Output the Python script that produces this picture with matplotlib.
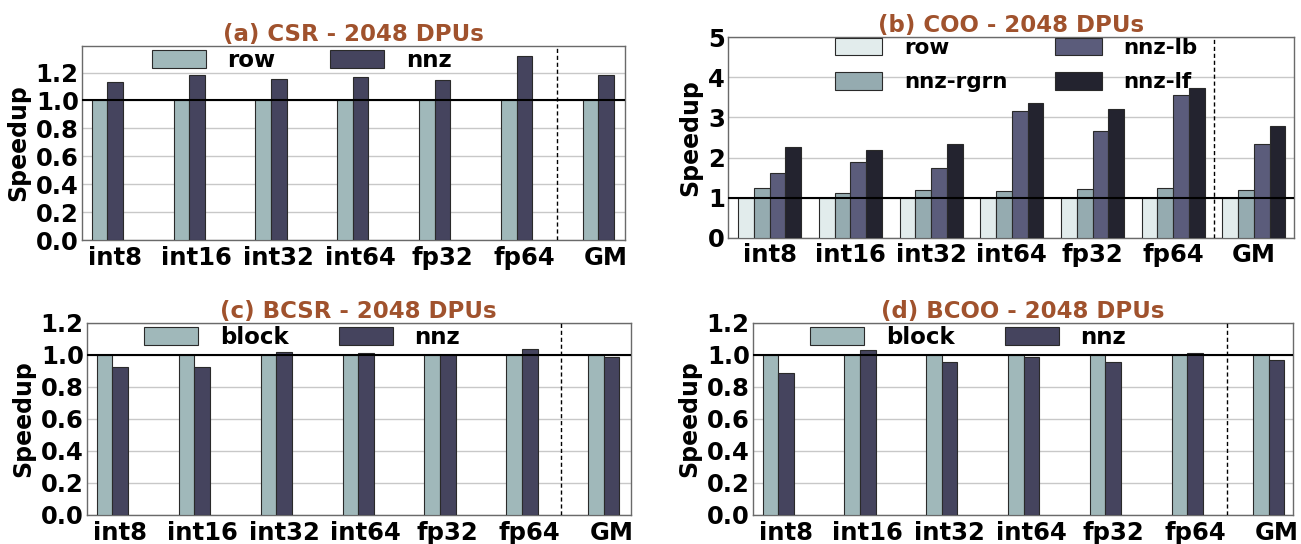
import matplotlib
matplotlib.use("Agg")
import matplotlib.pyplot as plt
import numpy as np

plt.rcParams['font.family'] = ['DejaVu Sans']
plt.rcParams['font.weight'] = 'bold'

categories = ["int8", "int16", "int32", "int64", "fp32", "fp64", "GM"]

# (a) CSR
csr_row = [1.0, 1.0, 1.0, 1.0, 1.0, 1.0, 1.0]
csr_nnz = [1.13, 1.18, 1.155, 1.17, 1.145, 1.315, 1.18]

# (b) COO
coo_row = [1.0, 1.0, 1.0, 1.0, 1.0, 1.0, 1.0]
coo_rgrn = [1.25, 1.11, 1.19, 1.17, 1.21, 1.24, 1.19]
coo_lb = [1.61, 1.88, 1.74, 3.16, 2.66, 3.56, 2.33]
coo_lf = [2.26, 2.18, 2.34, 3.37, 3.22, 3.74, 2.79]

# (c) BCSR
bcsr_block = [1.0, 1.0, 1.0, 1.0, 1.0, 1.0, 1.0]
bcsr_nnz = [0.925, 0.925, 1.02, 1.01, 1.0, 1.035, 0.985]

# (d) BCOO
bcoo_block = [1.0, 1.0, 1.0, 1.0, 1.0, 1.0, 1.0]
bcoo_nnz = [0.885, 1.03, 0.955, 0.99, 0.955, 1.01, 0.97]

C_LIGHT = "#a0b8ba"
C_DARK = "#45445e"
C_ROW = "#e2ecec"
C_RGRN = "#95abb0"
C_LB = "#5b5c7b"
C_LF = "#23232f"
TITLE_C = "#a0522d"

W, H = 1301, 544
fig = plt.figure(figsize=(W / 100, H / 100), dpi=100)


def ax_at(x0, y0, x1, y1):
    return fig.add_axes([x0 / W, 1 - y1 / H, (x1 - x0) / W, (y1 - y0) / H])


def style(ax, title, ylim, yticks, yfmt, xlim, dash_x):
    ax.set_ylim(*ylim)
    ax.set_xlim(*xlim)
    ax.set_yticks(yticks)
    ax.set_yticklabels([yfmt.format(v) for v in yticks], fontsize=17.5, fontweight='bold')
    ax.set_xticks(np.arange(len(categories)))
    ax.set_xticklabels(categories, fontsize=17.5, fontweight='bold')
    ax.tick_params(axis='both', length=0)
    ax.tick_params(axis='x', pad=4)
    ax.tick_params(axis='y', pad=2)
    ax.yaxis.grid(True, color="#c8c8c8", linewidth=1.0, zorder=0)
    ax.set_axisbelow(True)
    for s in ax.spines.values():
        s.set_color("#6a6a6a")
        s.set_linewidth(1.0)
    ax.axhline(1.0, color="black", linewidth=1.5, zorder=5)
    ax.axvline(dash_x, color="black", linestyle=(0, (3, 2)), linewidth=1.0, zorder=5)
    ax.set_ylabel("Speedup", fontsize=17, fontweight='bold', labelpad=4)
    ax.set_title(title, fontsize=16.5, fontweight='bold', color=TITLE_C, pad=3)


x = np.arange(len(categories))
EDGE = dict(edgecolor="#2a2a2a", linewidth=0.8, zorder=3)

# ---------- (a) ----------
axa = ax_at(81.5, 46, 625, 240)
w = 0.19
axa.bar(x - w, csr_row, w, align='center', color=C_LIGHT, label="row", **EDGE)
axa.bar(x, csr_nnz, w, align='center', color=C_DARK, label="nnz", **EDGE)
style(axa, "(a) CSR - 2048 DPUs", (0, 1.39), [0, 0.2, 0.4, 0.6, 0.8, 1.0, 1.2], "{:.1f}",
      (-0.41, 6.23), 5.4)
axa.legend(loc='upper left', bbox_to_anchor=((151.7 - 81.5) / 543.5, 0.985), ncol=2,
           frameon=False, fontsize=16.5, handlelength=2.35, handleheight=0.8,
           handletextpad=0.95, columnspacing=2.4, borderpad=0, borderaxespad=0)

# ---------- (b) ----------
axb = ax_at(727.7, 37.3, 1294.3, 237.7)
wb = 0.195
axb.bar(x - 1.5 * wb, coo_row, wb, color=C_ROW, label="row", **EDGE)
axb.bar(x - 0.5 * wb, coo_rgrn, wb, color=C_RGRN, label="nnz-rgrn", **EDGE)
axb.bar(x + 0.5 * wb, coo_lb, wb, color=C_LB, label="nnz-lb", **EDGE)
axb.bar(x + 1.5 * wb, coo_lf, wb, color=C_LF, label="nnz-lf", **EDGE)
style(axb, "(b) COO - 2048 DPUs", (0, 5), [0, 1, 2, 3, 4, 5], "{:d}", (-0.52, 6.5), 5.5)
axb.legend(loc='upper left', bbox_to_anchor=((835 - 727.7) / 566.6, 0.998), ncol=2,
           frameon=False, fontsize=15.5, handlelength=2.2, handleheight=0.85,
           handletextpad=1.0, columnspacing=2.2, labelspacing=0.68,
           borderpad=0, borderaxespad=0)

# ---------- (c) ----------
axc = ax_at(86.5, 323, 630.5, 515)
axc.bar(x - w, bcsr_block, w, color=C_LIGHT, label="block", **EDGE)
axc.bar(x, bcsr_nnz, w, color=C_DARK, label="nnz", **EDGE)
style(axc, "(c) BCSR - 2048 DPUs", (0, 1.2), [0, 0.2, 0.4, 0.6, 0.8, 1.0, 1.2], "{:.1f}",
      (-0.41, 6.23), 5.38)
axc.legend(loc='upper left', bbox_to_anchor=((144 - 86.5) / 544, 0.985), ncol=2,
           frameon=False, fontsize=16.5, handlelength=2.35, handleheight=0.8,
           handletextpad=0.95, columnspacing=2.2, borderpad=0, borderaxespad=0)

# ---------- (d) ----------
axd = ax_at(752.5, 323, 1293, 515)
axd.bar(x - w, bcoo_block, w, color=C_LIGHT, label="block", **EDGE)
axd.bar(x, bcoo_nnz, w, color=C_DARK, label="nnz", **EDGE)
style(axd, "(d) BCOO - 2048 DPUs", (0, 1.2), [0, 0.2, 0.4, 0.6, 0.8, 1.0, 1.2], "{:.1f}",
      (-0.41, 6.2), 5.39)
axd.legend(loc='upper left', bbox_to_anchor=((810 - 752.5) / 540.5, 0.985), ncol=2,
           frameon=False, fontsize=16.5, handlelength=2.35, handleheight=0.8,
           handletextpad=0.95, columnspacing=2.2, borderpad=0, borderaxespad=0)

fig.savefig("out.png", dpi=100)
